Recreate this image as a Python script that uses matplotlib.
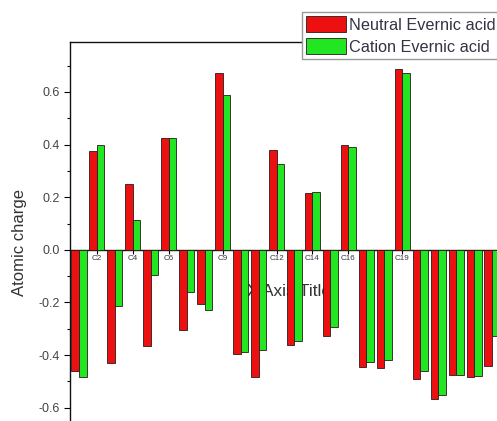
#!/usr/bin/env python
import matplotlib
matplotlib.use('Agg')
import matplotlib.pyplot as plt
import matplotlib.patches as patches
from matplotlib.ticker import MultipleLocator
import numpy as np

plt.rcParams['font.family'] = ['Liberation Sans', 'DejaVu Sans']

atoms = ['C1', 'C2', 'C3', 'C4', 'C5', 'C6', 'C7', 'C8', 'C9', 'C10', 'C11', 'C12',
         'C13', 'C14', 'C15', 'C16', 'C17', 'C18', 'C19', 'C20', 'C21', 'C22', 'C23', 'C24']
neutral = [-0.460, 0.375, -0.430, 0.250, -0.365, 0.425, -0.305, -0.205, 0.672, -0.395, -0.485, 0.380,
           -0.362, 0.216, -0.326, 0.397, -0.444, -0.450, 0.688, -0.492, -0.568, -0.476, -0.485, -0.441]
cation = [-0.485, 0.397, -0.212, 0.114, -0.095, 0.427, -0.159, -0.228, 0.587, -0.387, -0.381, 0.327,
          -0.346, 0.219, -0.294, 0.389, -0.425, -0.419, 0.672, -0.459, -0.552, -0.476, -0.479, -0.327]
labels = ['Neutral Evernic acid', 'Cation Evernic acid']

red = '#ec1010'
green = '#22e622'
edge = '#2a1a1a'

W, H = 497, 421
fig = plt.figure(figsize=(W/100., H/100.), dpi=100)
# axes runs off the right and bottom edge of the picture, as in the original crop
ax = fig.add_axes([70./W, -13./H, 431./W, 392./H])

x = np.arange(len(atoms))
bw = 0.42
ax.bar(x - bw/2, neutral, bw, color=red, edgecolor=edge, linewidth=0.6, zorder=3)
ax.bar(x + bw/2, cation, bw, color=green, edgecolor=edge, linewidth=0.6, zorder=3)

ax.set_xlim(-0.5, 23.5)
ax.set_ylim(-0.7, 0.79)

ax.spines['bottom'].set_position(('data', 0))
ax.spines['right'].set_visible(False)
for s in ['bottom', 'left', 'top']:
	ax.spines[s].set_linewidth(1.0)
	ax.spines[s].set_color('#111111')

ax.set_xticks(x)
ax.set_xticklabels(atoms)
ax.tick_params(axis='x', direction='out', length=3, width=0.8, pad=0.5,
               labelsize=5.8, labelcolor='#333344')
ax.yaxis.set_minor_locator(MultipleLocator(0.1))
ax.set_yticks([-0.6, -0.4, -0.2, 0.0, 0.2, 0.4, 0.6])
ax.set_yticklabels(['-0.6', '-0.4', '-0.2', '0.0', '0.2', '0.4', '0.6'])
ax.tick_params(axis='y', which='major', direction='out', length=4.5, width=0.8, pad=3,
               labelsize=9, labelcolor='#444444')
ax.tick_params(axis='y', which='minor', direction='out', length=2.5, width=0.8)

ax.text(289./W, 1 - 291./H, 'X Axis Title', transform=fig.transFigure,
        ha='center', va='center', fontsize=12.3, color='#333333', zorder=2)
fig.text(20./W, 1 - 242./H, 'Atomic charge', rotation=90, ha='center', va='center',
         fontsize=12, color='#333333')

handles = [patches.Patch(facecolor=red, edgecolor=edge, linewidth=0.6),
           patches.Patch(facecolor=green, edgecolor=edge, linewidth=0.6)]
leg = fig.legend(handles, labels, loc='upper left', bbox_to_anchor=(302./W, 1 - 12./H),
                 borderaxespad=0, fontsize=11.7, frameon=True, fancybox=False, framealpha=1,
                 handlelength=2.45, handleheight=1.15, handletextpad=0.2, labelspacing=0.35,
                 borderpad=0.25)
leg.get_frame().set_edgecolor('#999999')
leg.get_frame().set_linewidth(1.0)
for t in leg.get_texts():
	t.set_color('#333344')

fig.savefig('out.png', dpi=100)
